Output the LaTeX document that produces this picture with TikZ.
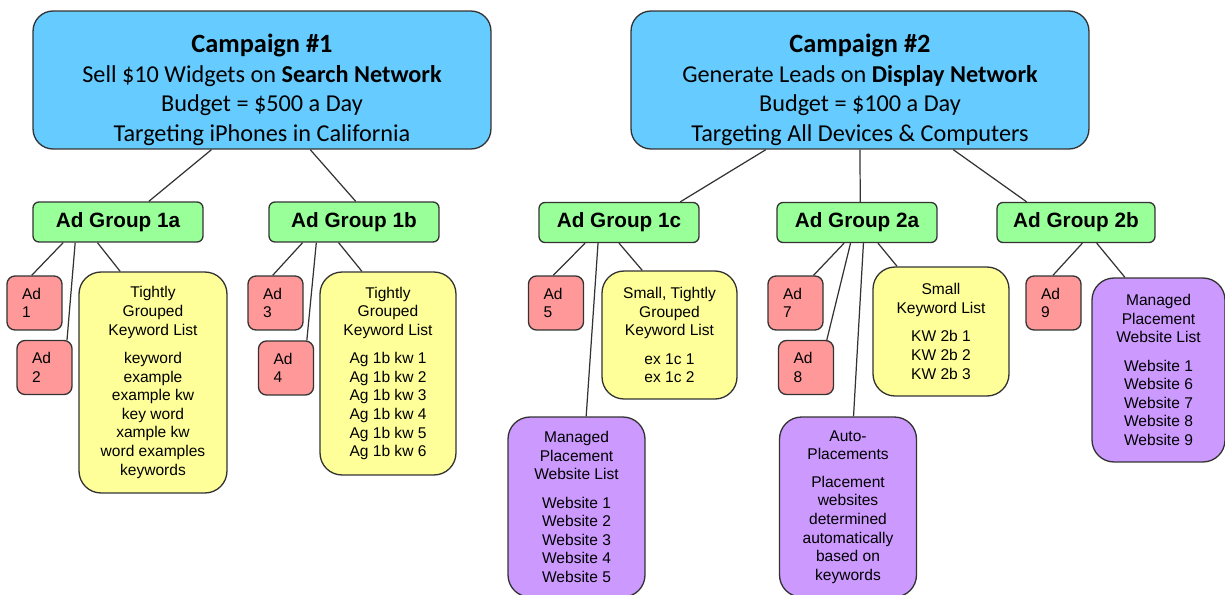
\documentclass[tikz,border=0pt]{standalone}
\usepackage{fontspec}
\setmainfont{Liberation Sans}
\newfontfamily\campFont{Carlito}
\usepackage{xcolor}
\definecolor{edgeDark}{HTML}{333333}
\definecolor{campColor}{HTML}{66CCFF}
\definecolor{groupColor}{HTML}{99FF99}
\definecolor{adColor}{HTML}{FF9999}
\definecolor{kwColor}{HTML}{FFFF99}
\definecolor{siteColor}{HTML}{CC99FF}
\usepackage{tikz}
\usetikzlibrary{calc}
\tikzset{
  campBox/.style={
    rectangle,
    rounded corners=0.4cm,
    draw=edgeDark,
    line width=0.75pt,
    fill=campColor,
    inner sep=0pt,
    minimum width=9.16cm,
    minimum height=2.76cm,
    align=center,
    font=\campFont\fontsize{13.8}{16.8}\selectfont
 },
  groupBox/.style={
    rectangle,
    rounded corners=0.12cm,
    draw=edgeDark,
    line width=0.75pt,
    fill=groupColor,
    minimum height=0.8cm,
    align=center,
    font=\bfseries\fontsize{11.8}{14}\selectfont
 },
  adBox/.style={
    rectangle,
    rounded corners=0.16cm,
    draw=edgeDark,
    line width=0.75pt,
    fill=adColor,
    inner sep=0pt,
    text width=0.5cm,
    minimum width=1.1cm,
    minimum height=1.08cm,
    align=left,
    font=\fontsize{8.85}{10.6}\selectfont
 },
  kwBox/.style={
    rectangle,
    rounded corners=0.44cm,
    draw=edgeDark,
    line width=0.75pt,
    fill=kwColor,
    align=center,
    font=\fontsize{8.85}{10.6}\selectfont
 },
  siteBox/.style={
    rectangle,
    rounded corners=0.44cm,
    draw=edgeDark,
    line width=0.75pt,
    fill=siteColor,
    align=center,
    font=\fontsize{8.85}{10.6}\selectfont
 },
  linkLine/.style={
    line width=0.7pt,
    color=edgeDark
 }
}
\newcommand{\campTitle}[1]{\rule{0pt}{21.5pt}{\fontsize{15}{16.8}\selectfont\textbf{#1}}}

\begin{document}
\begin{tikzpicture}[x=0.02cm, y=-0.02cm]
            \clip (0,0) rectangle (1225,595);

            % campaigns
            \node[campBox] (camp1) at (262,80) {\campTitle{Campaign \#1}\\Sell \$10 Widgets on \textbf{Search Network}\\Budget = \$500 a Day\\Targeting iPhones in California};
            \node[campBox] (camp2) at (860,80) {\campTitle{Campaign \#2}\\Generate Leads on \textbf{Display Network}\\Budget = \$100 a Day\\Targeting All Devices \& Computers};

            % ad groups
            \node[groupBox, minimum width=3.4cm] (grp1a) at (118,222) {Ad Group 1a};
            \node[groupBox, minimum width=3.4cm] (grp1b) at (354,222) {Ad Group 1b};
            \node[groupBox, minimum width=3.2cm] (grp1c) at (619,222.5) {Ad Group 1c};
            \node[groupBox, minimum width=3.2cm] (grp2a) at (857,222.5) {Ad Group 2a};
            \node[groupBox, minimum width=3.16cm] (grp2b) at (1076,222.5) {Ad Group 2b};

            % ads
            \node[adBox] (ad1) at (34.5,303) {Ad\\1};
            \node[adBox] (ad2) at (44.5,367.5) {Ad\\2};
            \node[adBox] (ad3) at (275.5,303) {Ad\\3};
            \node[adBox] (ad4) at (286,368) {Ad\\4};
            \node[adBox] (ad5) at (556,303) {Ad\\5};
            \node[adBox] (ad7) at (795.5,303) {Ad\\7};
            \node[adBox] (ad8) at (806,367.5) {Ad\\8};
            \node[adBox] (ad9) at (1053.5,303) {Ad\\9};

            % keyword lists
            \node[kwBox, minimum width=2.96cm, minimum height=4.42cm] (kw1a) at (153,382.5) {Tightly\\Grouped\\Keyword List\\[5.5pt]keyword\\example\\example kw\\key word\\xample kw\\word examples\\keywords};
            \node[kwBox, minimum width=2.72cm, minimum height=4.06cm] (kw1b) at (388,373.5) {Tightly\\Grouped\\Keyword List\\[5.5pt]Ag 1b kw 1\\Ag 1b kw 2\\Ag 1b kw 3\\Ag 1b kw 4\\Ag 1b kw 5\\Ag 1b kw 6};
            \node[kwBox, minimum width=2.7cm, minimum height=2.56cm] (kw1c) at (669.5,335) {Small, Tightly\\Grouped\\Keyword List\\[5.5pt]ex 1c 1\\ex 1c 2};
            \node[kwBox, minimum width=2.72cm, minimum height=2.58cm] (kw2a) at (941,331.5) {Small\\Keyword List\\[5.5pt]KW 2b 1\\KW 2b 2\\KW 2b 3};

            % placements
            \node[siteBox, minimum width=2.74cm, minimum height=3.6cm] (site1c) at (576.5,507) {Managed\\Placement\\Website List\\[5.5pt]Website 1\\Website 2\\Website 3\\Website 4\\Website 5};
            \node[siteBox, minimum width=2.74cm, minimum height=3.6cm] (site2a) at (848,507) {Auto-\\Placements\\[5pt]Placement\\websites\\determined\\automatically\\based on\\keywords};
            \node[siteBox, minimum width=2.66cm, minimum height=3.68cm] (site2b) at (1158.5,370) {Managed\\Placement\\Website List\\[5.5pt]Website 1\\Website 6\\Website 7\\Website 8\\Website 9};

            % campaign to ad group
            \draw[linkLine] ($(camp1.south west)!.39!(camp1.south east)$) -- ($(grp1a.north west)!.68!(grp1a.north east)$);
            \draw[linkLine] ($(camp1.south west)!.605!(camp1.south east)$) -- ($(grp1b.north west)!.51!(grp1b.north east)$);
            \draw[linkLine] ($(camp2.south west)!.295!(camp2.south east)$) -- ($(grp1c.north west)!.88!(grp1c.north east)$);
            \draw[linkLine] ($(camp2.south west)!.5!(camp2.south east)$) -- ($(grp2a.north west)!.52!(grp2a.north east)$);
            \draw[linkLine] ($(camp2.south west)!.703!(camp2.south east)$) -- ($(grp2b.north west)!.19!(grp2b.north east)$);

            % ad group to contents
            \draw[linkLine] ($(grp1a.south west)!.18!(grp1a.south east)$) -- ($(ad1.north west)!.45!(ad1.north east)$);
            \draw[linkLine] ($(grp1a.south west)!.25!(grp1a.south east)$) -- ($(ad2.north west)!.9!(ad2.north east)$);
            \draw[linkLine] ($(grp1a.south west)!.38!(grp1a.south east)$) -- ($(kw1a.north west)!.28!(kw1a.north east)$);
            \draw[linkLine] ($(grp1b.south west)!.2!(grp1b.south east)$) -- ($(ad3.north west)!.45!(ad3.north east)$);
            \draw[linkLine] ($(grp1b.south west)!.28!(grp1b.south east)$) -- ($(ad4.north west)!.87!(ad4.north east)$);
            \draw[linkLine] ($(grp1b.south west)!.41!(grp1b.south east)$) -- ($(kw1b.north west)!.31!(kw1b.north east)$);
            \draw[linkLine] ($(grp1c.south west)!.29!(grp1c.south east)$) -- ($(ad5.north west)!.45!(ad5.north east)$);
            \draw[linkLine] ($(grp1c.south west)!.37!(grp1c.south east)$) -- ($(site1c.north west)!.57!(site1c.north east)$);
            \draw[linkLine] ($(grp1c.south west)!.5!(grp1c.south east)$) -- ($(kw1c.north west)!.3!(kw1c.north east)$);
            \draw[linkLine] ($(grp2a.south west)!.42!(grp2a.south east)$) -- ($(ad7.north west)!.82!(ad7.north east)$);
            \draw[linkLine] ($(grp2a.south west)!.46!(grp2a.south east)$) -- ($(ad8.north west)!.87!(ad8.north east)$);
            \draw[linkLine] ($(grp2a.south west)!.54!(grp2a.south east)$) -- ($(site2a.north west)!.54!(site2a.north east)$);
            \draw[linkLine] ($(grp2a.south west)!.63!(grp2a.south east)$) -- ($(kw2a.north west)!.18!(kw2a.north east)$);
            \draw[linkLine] ($(grp2b.south west)!.54!(grp2b.south east)$) -- ($(ad9.north west)!.49!(ad9.north east)$);
            \draw[linkLine] ($(grp2b.south west)!.63!(grp2b.south east)$) -- ($(site2b.north west)!.25!(site2b.north east)$);
        \end{tikzpicture}
\end{document}
